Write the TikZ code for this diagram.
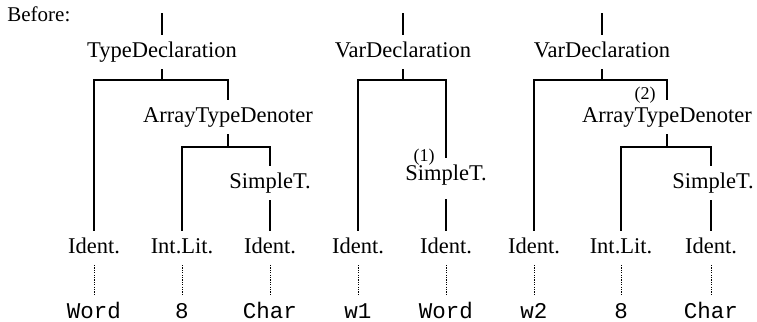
\documentclass[tikz,border=0pt]{standalone}
\usepackage{fontspec}
\setmainfont{Liberation Serif}
\setmonofont{Liberation Mono}

\begin{document}
\begin{tikzpicture}[
    x=0.5pt, y=-0.5pt,
    cat/.style={font=\fontsize{11.25}{13}\selectfont, anchor=base, inner sep=0pt,
                outer ysep=3.5pt, text height=7.5pt, text depth=2.5pt},
    leaf/.style={cat, font=\ttfamily\fontsize{11.25}{13}\selectfont},
    edgenum/.style={font=\fontsize{9}{10}\selectfont, inner sep=0pt},
    branch/.style={line width=1pt},
    link/.style={line width=0.5pt, dash pattern=on 0.6pt off 0.6pt}
]
    \useasboundingbox (0,0) rectangle (757,322);

    \node[anchor=base west, inner sep=0pt, font=\fontsize{10.5}{12}\selectfont] (before) at (7,21) {Before:};

    % bar levels and free ends of the top ticks
    \coordinate (barA) at (0,80);
    \coordinate (barB) at (0,147);
    \coordinate (topA) at (162,13);
    \coordinate (topB) at (403,13);
    \coordinate (topC) at (602,13);

    % first tree
    \node[cat] (typedecl) at (162,57) {TypeDeclaration};
    \node[cat] (arrayA) at (228,122) {ArrayTypeDenoter};
    \node[cat] (simpleA) at (270,188) {SimpleT.};
    \node[cat] (identA1) at (94,253) {Ident.};
    \node[cat] (intlitA) at (182,253) {Int.Lit.};
    \node[cat] (identA2) at (270,253) {Ident.};
    \node[leaf] (wordA) at (94,318) {Word};
    \node[leaf] (eightA) at (182,318) {8};
    \node[leaf] (charA) at (270,318) {Char};

    % second tree
    \node[cat] (vardeclA) at (403,57) {VarDeclaration};
    \node[edgenum] (numone) at (424,157) {(1)};
    \node[cat] (simpleB) at (446,180) {SimpleT.};
    \node[cat] (identB1) at (358,253) {Ident.};
    \node[cat] (identB2) at (446,253) {Ident.};
    \node[leaf] (wone) at (358,318) {w1};
    \node[leaf] (wordB) at (446,318) {Word};

    % third tree
    \node[cat] (vardeclB) at (602,57) {VarDeclaration};
    \node[edgenum] (numtwo) at (645,95) {(2)};
    \node[cat] (arrayB) at (667,122) {ArrayTypeDenoter};
    \node[cat] (simpleC) at (713,188) {SimpleT.};
    \node[cat] (identC1) at (534,253) {Ident.};
    \node[cat] (intlitC) at (621,253) {Int.Lit.};
    \node[cat] (identC2) at (711,253) {Ident.};
    \node[leaf] (wtwo) at (534,318) {w2};
    \node[leaf] (eightC) at (621,318) {8};
    \node[leaf] (charC) at (711,318) {Char};

    \draw[branch] (topA) -- (typedecl.north);
    \draw[branch] (typedecl.south) |- (identA1.north |- barA) -- (identA1.north);
    \draw[branch] (typedecl.south) |- (arrayA.north |- barA) -- (arrayA.north);
    \draw[branch] (arrayA.south) |- (intlitA.north |- barB) -- (intlitA.north);
    \draw[branch] (arrayA.south) |- (identA2.north |- barB) -- (identA2.north |- simpleA.north);
    \draw[branch] (simpleA.south -| identA2.north) -- (identA2.north);
    \draw[link] (identA1.south) -- (wordA.north);
    \draw[link] (intlitA.south) -- (eightA.north);
    \draw[link] (identA2.south) -- (charA.north);

    \draw[branch] (topB) -- (vardeclA.north);
    \draw[branch] (vardeclA.south) |- (identB1.north |- barA) -- (identB1.north);
    \draw[branch] (vardeclA.south) |- (identB2.north |- barA) -- (identB2.north |- simpleB.north);
    \draw[branch, shorten <=3.5pt] (simpleB.south -| identB2.north) -- (identB2.north);
    \draw[link] (identB1.south) -- (wone.north);
    \draw[link] (identB2.south) -- (wordB.north);

    \draw[branch] (topC) -- (vardeclB.north);
    \draw[branch] (vardeclB.south) |- (identC1.north |- barA) -- (identC1.north);
    \draw[branch] (vardeclB.south) |- (arrayB.north |- barA) -- (arrayB.north);
    \draw[branch] (arrayB.south) |- (intlitC.north |- barB) -- (intlitC.north);
    \draw[branch] (arrayB.south) |- (identC2.north |- barB) -- (identC2.north |- simpleC.north);
    \draw[branch] (simpleC.south -| identC2.north) -- (identC2.north);
    \draw[link] (identC1.south) -- (wtwo.north);
    \draw[link] (intlitC.south) -- (eightC.north);
    \draw[link] (identC2.south) -- (charC.north);
\end{tikzpicture}
\end{document}
